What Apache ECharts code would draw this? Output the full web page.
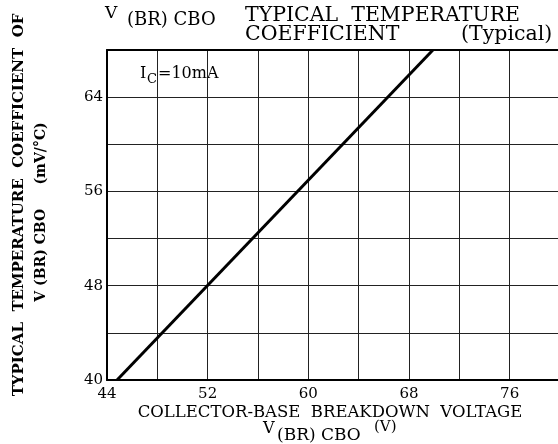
<!DOCTYPE html>
<html><head><meta charset="utf-8">
<script src="https://cdn.jsdelivr.net/npm/echarts@6/dist/echarts.min.js"></script>
<style>html,body{margin:0;padding:0;background:#fff}#c{width:558px;height:444px}</style>
</head><body><div id="c"></div>
<script>
const xTicks = [44, 52, 60, 68, 76];
const yTicks = [40, 48, 56, 64];
const lineX = [44.8, 69.9];
const lineY = [40, 68];

const F = 'DejaVu Serif';
const chart = echarts.init(document.getElementById('c'), null, {renderer: 'canvas'});
const data = lineX.map((x, i) => [x, lineY[i]]);
const txt = (x, y, s, size, bold) => ({
  type: 'text', left: x, top: y,
  style: {text: s, font: (bold ? 'bold ' : '') + size + 'px "' + F + '"', fill: '#000'}
});
chart.setOption({
  animation: false,
  grid: {left: 107, top: 50, width: 453, height: 330, outerBoundsMode: 'none', containLabel: false},
  xAxis: [{
    type: 'value', min: 44, max: 80, interval: 4,
    axisLine: {show: true, lineStyle: {color: '#000', width: 2}},
    axisTick: {show: false},
    splitLine: {show: true, lineStyle: {color: '#222', width: 1}},
    axisLabel: {color: '#000', fontFamily: F, fontSize: 15, margin: 7,
      formatter: v => xTicks.includes(v) ? String(v) : ''}
  }, {
    type: 'value', position: 'top', min: 44, max: 80,
    axisLine: {show: true, onZero: false, lineStyle: {color: '#000', width: 2}},
    axisTick: {show: false}, axisLabel: {show: false}, splitLine: {show: false}
  }],
  yAxis: {
    type: 'value', min: 40, max: 68, interval: 4,
    axisLine: {show: true, lineStyle: {color: '#000', width: 2}},
    axisTick: {show: false},
    splitLine: {show: true, lineStyle: {color: '#222', width: 1}},
    axisLabel: {color: '#000', fontFamily: F, fontSize: 15, margin: 4,
      formatter: v => yTicks.includes(v) ? String(v) : ''}
  },
  series: [{
    type: 'line', data: data, symbol: 'none', clip: true,
    lineStyle: {color: '#000', width: 3}
  }],
  graphic: [
    txt(105, 5, 'V', 17),
    txt(127, 11, '(BR) CBO', 18),
    txt(245, 5, 'TYPICAL  TEMPERATURE', 20.5),
    txt(245, 24, 'COEFFICIENT', 20.5),
    txt(461, 24, '(Typical)', 20.5),
    txt(140, 66, 'I', 16),
    txt(147, 73, 'C', 13),
    txt(158, 66, '=10mA', 16),
    {type: 'text', x: 330, y: 404, style: {text: 'COLLECTOR-BASE  BREAKDOWN  VOLTAGE', font: '16.5px "' + F + '"', fill: '#000', textAlign: 'center'}},
    txt(263, 421, 'V', 16),
    txt(277, 427, '(BR) CBO', 17),
    txt(374, 420, '(V)', 15),
    {type: 'text', x: 19, y: 205, rotation: Math.PI / 2,
      style: {text: 'TYPICAL  TEMPERATURE  COEFFICIENT  OF', font: 'bold 15px "' + F + '"', fill: '#000', textAlign: 'center', textVerticalAlign: 'middle'}},
    {type: 'text', x: 41, y: 212, rotation: Math.PI / 2,
      style: {text: 'V (BR) CBO     (mV/°C)', font: 'bold 14px "' + F + '"', fill: '#000', textAlign: 'center', textVerticalAlign: 'middle'}}
  ]
});
</script></body></html>
